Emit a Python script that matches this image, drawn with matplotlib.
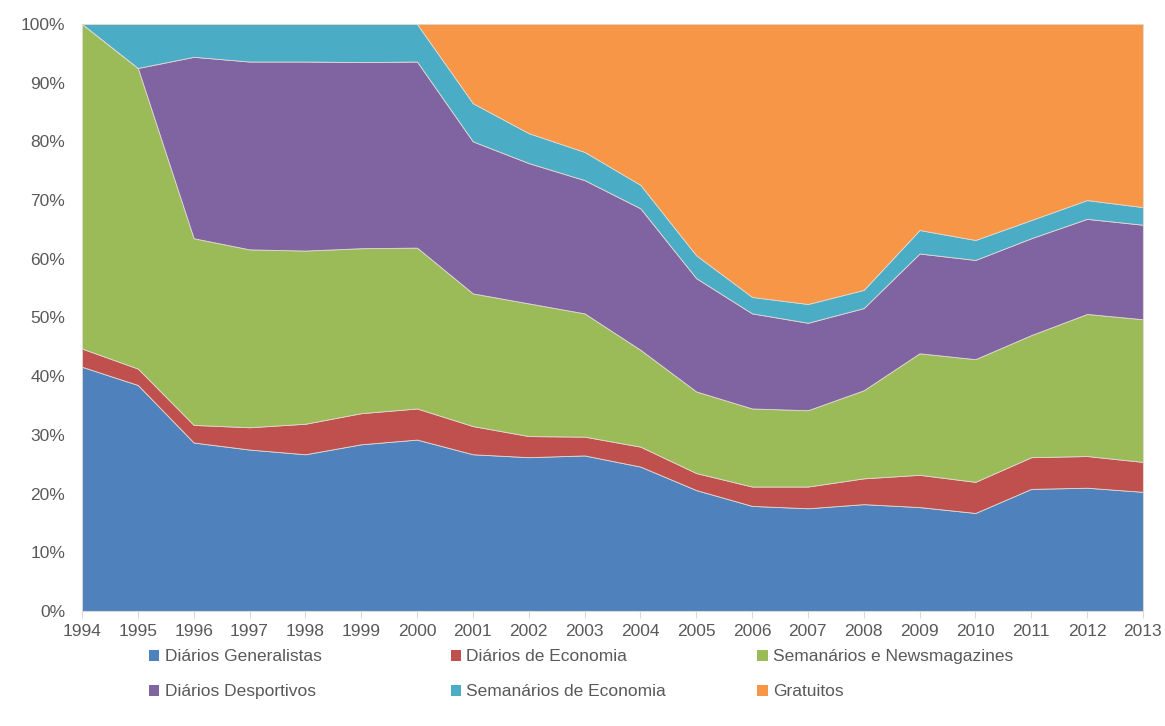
import numpy as np
import matplotlib
matplotlib.use("Agg")
import matplotlib.pyplot as plt
from matplotlib.patches import Patch
from matplotlib.ticker import PercentFormatter

plt.rcParams['font.family'] = ['Liberation Sans Narrow', 'Liberation Sans', 'DejaVu Sans']

# ================================================
# DATA (share of circulation, %)
# ================================================
years = list(range(1994, 2014))

diarios_generalistas = [41.6, 38.5, 28.7, 27.5, 26.7, 28.4, 29.2, 26.7, 26.2, 26.5,
                        24.6, 20.6, 17.9, 17.5, 18.2, 17.7, 16.7, 20.8, 21.0, 20.3]
diarios_economia = [3.1, 2.8, 3.0, 3.8, 5.2, 5.3, 5.3, 4.8, 3.6, 3.2,
                    3.4, 2.9, 3.3, 3.7, 4.4, 5.5, 5.3, 5.4, 5.4, 5.1]
semanarios_news = [55.3, 51.2, 31.8, 30.3, 29.5, 28.1, 27.4, 22.6, 22.6, 21.0,
                   16.5, 13.9, 13.3, 13.0, 15.0, 20.7, 20.9, 20.8, 24.2, 24.3]
diarios_desportivos = [0.0, 0.0, 30.9, 32.0, 32.2, 31.7, 31.7, 25.9, 23.9, 22.7,
                       24.1, 19.3, 16.2, 14.9, 14.0, 17.0, 16.9, 16.5, 16.2, 16.1]
semanarios_economia = [0.0, 7.5, 5.6, 6.4, 6.4, 6.5, 6.4, 6.5, 5.1, 4.8,
                       4.0, 3.9, 2.8, 3.2, 3.1, 4.0, 3.4, 3.1, 3.2, 3.0]
gratuitos = [0.0, 0.0, 0.0, 0.0, 0.0, 0.0, 0.0, 13.5, 18.6, 21.8,
             27.4, 39.4, 46.5, 47.7, 45.3, 35.1, 36.8, 33.4, 30.0, 31.2]

labels = ["Diários Generalistas", "Diários de Economia", "Semanários e Newsmagazines",
          "Diários Desportivos", "Semanários de Economia", "Gratuitos"]
colors = ["#4F81BD", "#C0504D", "#9BBB59", "#8064A2", "#4BACC6", "#F79646"]

series = np.array([diarios_generalistas, diarios_economia, semanarios_news,
                   diarios_desportivos, semanarios_economia, gratuitos])
# normalise to 100% like the stacked-percent chart
series = series / series.sum(axis=0) * 100

# ================================================
# PLOT
# ================================================
fig = plt.figure(figsize=(11.65, 7.26), dpi=100)
ax = fig.add_axes([0.0704, 0.1584, 0.9106, 0.8086])

ax.stackplot(years, series, colors=colors, edgecolor="#e0d8d0", linewidth=0.6)

ax.set_xlim(1994, 2013)
ax.set_ylim(0, 100)
ax.set_xticks(years)
ax.set_yticks(np.arange(0, 101, 10))
ax.yaxis.set_major_formatter(PercentFormatter(decimals=0))

for s in ["top", "right", "left"]:
    ax.spines[s].set_visible(False)
ax.spines["bottom"].set_color("#d9d9d9")
ax.tick_params(axis="x", colors="#d9d9d9", labelcolor="#595959", length=5,
               labelsize=12.5, pad=4)
ax.tick_params(axis="y", length=0, labelcolor="#595959", labelsize=12.5, pad=12)

# legend: one small legend per column so the columns sit where the original has them
handles = [Patch(facecolor=c) for c in colors]
col_x = [0.122, 0.381, 0.644]
for k in range(3):
    idx = [k, k + 3]
    leg = fig.legend([handles[i] for i in idx], [labels[i] for i in idx],
                     loc="upper left", bbox_to_anchor=(col_x[k], 0.115),
                     frameon=False, fontsize=12.5, handlelength=0.6, handleheight=0.6,
                     handletextpad=0.3, labelspacing=1.15, labelcolor="#595959",
                     borderaxespad=0)

fig.savefig("out.png", dpi=100)
